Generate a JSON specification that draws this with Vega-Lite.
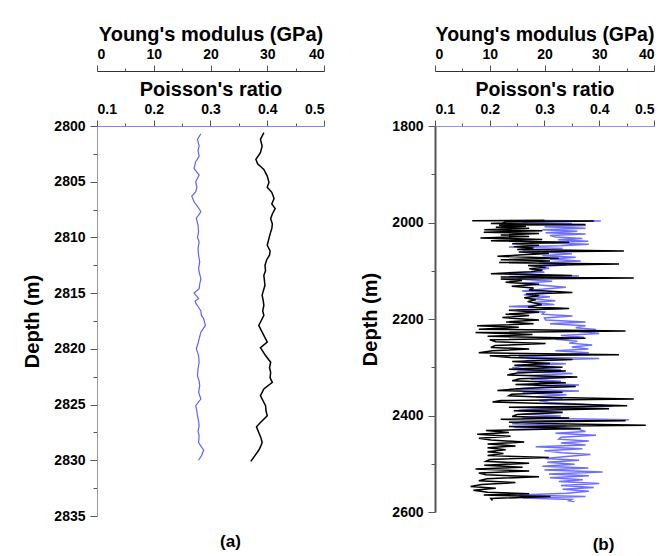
{
  "$schema": "https://vega.github.io/schema/vega-lite/v6.json",
  "padding": {"left": 22, "top": 24, "right": 0, "bottom": 0},
  "background": "white",
  "config": {
    "font": "Liberation Sans",
    "view": {"stroke": null},
    "axis": {"labelFont": "Liberation Sans", "labelFontWeight": "bold", "labelFontSize": 14, "labelColor": "#000", "titleFont": "Liberation Sans", "titleFontWeight": "bold", "titleFontSize": 20, "titleColor": "#000", "grid": false, "tickColor": "#555", "domainColor": "#555"},
    "concat": {"spacing": 35}
  },
  "datasets": {
    "a_young": [
      {"depth":2800.6,"value":29.4},{"depth":2801.2,"value":28.8},{"depth":2801.8,"value":29.1},{"depth":2802.4,"value":28.8},{"depth":2803.0,"value":28.0},{"depth":2803.4,"value":28.3},{"depth":2803.9,"value":29.4},{"depth":2804.5,"value":30.0},{"depth":2805.05,"value":30.3},{"depth":2805.5,"value":30.0},{"depth":2805.95,"value":30.8},{"depth":2806.5,"value":31.2},{"depth":2807.0,"value":30.8},{"depth":2807.4,"value":31.4},{"depth":2807.9,"value":30.9},{"depth":2808.3,"value":30.6},{"depth":2808.8,"value":30.9},{"depth":2809.2,"value":30.8},{"depth":2809.7,"value":30.5},{"depth":2810.1,"value":30.3},{"depth":2810.7,"value":30.0},{"depth":2811.2,"value":30.5},{"depth":2811.6,"value":30.4},{"depth":2812.0,"value":29.9},{"depth":2812.5,"value":29.6},{"depth":2813.0,"value":29.7},{"depth":2813.4,"value":29.4},{"depth":2814.3,"value":29.6},{"depth":2814.8,"value":29.3},{"depth":2815.2,"value":29.1},{"depth":2815.7,"value":29.3},{"depth":2816.1,"value":29.4},{"depth":2816.6,"value":29.2},{"depth":2817.0,"value":29.4},{"depth":2817.5,"value":28.9},{"depth":2817.9,"value":28.5},{"depth":2818.5,"value":29.1},{"depth":2819.0,"value":29.6},{"depth":2819.4,"value":30.0},{"depth":2819.9,"value":28.8},{"depth":2820.6,"value":29.7},{"depth":2821.2,"value":30.6},{"depth":2821.7,"value":30.4},{"depth":2822.1,"value":30.6},{"depth":2822.6,"value":30.5},{"depth":2823.0,"value":30.9},{"depth":2823.6,"value":29.4},{"depth":2824.2,"value":28.8},{"depth":2824.7,"value":29.3},{"depth":2825.1,"value":29.7},{"depth":2825.6,"value":29.8},{"depth":2826.0,"value":30.0},{"depth":2826.6,"value":28.8},{"depth":2827.0,"value":28.1},{"depth":2827.5,"value":28.5},{"depth":2828.0,"value":28.9},{"depth":2828.4,"value":29.1},{"depth":2828.8,"value":28.8},{"depth":2829.1,"value":28.5},{"depth":2829.6,"value":27.8},{"depth":2830.1,"value":27.1}
    ],
    "a_poisson": [
      {"depth":2800.7,"value":0.283},{"depth":2801.2,"value":0.277},{"depth":2801.8,"value":0.280},{"depth":2802.2,"value":0.278},{"depth":2802.7,"value":0.280},{"depth":2803.2,"value":0.274},{"depth":2803.8,"value":0.271},{"depth":2804.4,"value":0.280},{"depth":2805.0,"value":0.274},{"depth":2805.5,"value":0.276},{"depth":2805.9,"value":0.274},{"depth":2806.3,"value":0.267},{"depth":2806.8,"value":0.271},{"depth":2807.2,"value":0.277},{"depth":2807.7,"value":0.283},{"depth":2808.3,"value":0.275},{"depth":2808.9,"value":0.278},{"depth":2809.5,"value":0.279},{"depth":2810.0,"value":0.277},{"depth":2810.4,"value":0.280},{"depth":2811.0,"value":0.278},{"depth":2811.6,"value":0.279},{"depth":2812.2,"value":0.281},{"depth":2812.8,"value":0.279},{"depth":2813.3,"value":0.281},{"depth":2813.7,"value":0.283},{"depth":2814.2,"value":0.281},{"depth":2814.6,"value":0.280},{"depth":2815.0,"value":0.271},{"depth":2815.3,"value":0.276},{"depth":2815.5,"value":0.279},{"depth":2815.7,"value":0.273},{"depth":2815.9,"value":0.274},{"depth":2816.2,"value":0.278},{"depth":2816.6,"value":0.283},{"depth":2817.0,"value":0.284},{"depth":2817.3,"value":0.288},{"depth":2817.9,"value":0.291},{"depth":2818.2,"value":0.287},{"depth":2818.5,"value":0.283},{"depth":2819.1,"value":0.280},{"depth":2819.5,"value":0.278},{"depth":2820.0,"value":0.275},{"depth":2820.6,"value":0.279},{"depth":2821.2,"value":0.280},{"depth":2821.8,"value":0.278},{"depth":2822.4,"value":0.277},{"depth":2822.9,"value":0.280},{"depth":2823.3,"value":0.281},{"depth":2823.9,"value":0.279},{"depth":2824.5,"value":0.283},{"depth":2825.1,"value":0.274},{"depth":2825.6,"value":0.276},{"depth":2826.0,"value":0.277},{"depth":2826.5,"value":0.279},{"depth":2826.9,"value":0.280},{"depth":2827.4,"value":0.278},{"depth":2827.8,"value":0.280},{"depth":2828.4,"value":0.279},{"depth":2828.8,"value":0.284},{"depth":2829.1,"value":0.288},{"depth":2829.6,"value":0.284},{"depth":2830.0,"value":0.279}
    ],
    "b_young": [
      {"depth":1995.5,"value":20.0},{"depth":1996.2,"value":6.8},{"depth":1997.0,"value":29.0},{"depth":1999.0,"value":13.0},{"depth":2001.0,"value":12.3},{"depth":2002.0,"value":10.2},{"depth":2004.0,"value":27.5},{"depth":2005.5,"value":11.7},{"depth":2008.0,"value":16.6},{"depth":2010.0,"value":11.1},{"depth":2012.0,"value":17.2},{"depth":2015.0,"value":9.0},{"depth":2017.0,"value":19.6},{"depth":2020.0,"value":8.9},{"depth":2023.0,"value":19.0},{"depth":2026.0,"value":12.0},{"depth":2029.0,"value":17.2},{"depth":2032.0,"value":8.3},{"depth":2035.0,"value":19.6},{"depth":2038.0,"value":10.2},{"depth":2041.0,"value":24.5},{"depth":2044.0,"value":14.1},{"depth":2047.0,"value":19.0},{"depth":2050.0,"value":14.4},{"depth":2053.0,"value":18.0},{"depth":2056.0,"value":15.0},{"depth":2059.0,"value":34.5},{"depth":2061.0,"value":15.3},{"depth":2064.0,"value":20.8},{"depth":2067.0,"value":16.0},{"depth":2070.0,"value":11.4},{"depth":2074.0,"value":22.6},{"depth":2077.0,"value":12.0},{"depth":2080.0,"value":21.0},{"depth":2083.0,"value":11.7},{"depth":2086.0,"value":33.6},{"depth":2089.0,"value":17.0},{"depth":2093.0,"value":20.2},{"depth":2096.0,"value":17.2},{"depth":2099.0,"value":19.6},{"depth":2102.0,"value":17.5},{"depth":2106.0,"value":10.2},{"depth":2110.0,"value":25.0},{"depth":2113.0,"value":12.0},{"depth":2115.0,"value":36.3},{"depth":2117.0,"value":12.0},{"depth":2120.0,"value":15.9},{"depth":2124.0,"value":12.9},{"depth":2128.0,"value":19.0},{"depth":2132.0,"value":14.0},{"depth":2136.0,"value":18.0},{"depth":2140.0,"value":17.2},{"depth":2145.0,"value":25.1},{"depth":2148.0,"value":16.6},{"depth":2152.0,"value":19.0},{"depth":2156.0,"value":16.3},{"depth":2160.0,"value":18.4},{"depth":2164.0,"value":16.9},{"depth":2170.0,"value":19.5},{"depth":2175.0,"value":17.0},{"depth":2178.0,"value":24.5},{"depth":2182.0,"value":13.5},{"depth":2186.0,"value":19.0},{"depth":2190.0,"value":12.9},{"depth":2193.0,"value":17.2},{"depth":2197.0,"value":12.3},{"depth":2202.0,"value":19.0},{"depth":2206.0,"value":13.0},{"depth":2210.0,"value":18.0},{"depth":2214.0,"value":7.7},{"depth":2217.0,"value":15.3},{"depth":2221.0,"value":8.0},{"depth":2225.0,"value":34.8},{"depth":2228.0,"value":7.4},{"depth":2232.0,"value":17.8},{"depth":2236.0,"value":9.6},{"depth":2240.0,"value":27.5},{"depth":2243.0,"value":10.0},{"depth":2247.0,"value":11.1},{"depth":2251.0,"value":20.2},{"depth":2255.0,"value":11.0},{"depth":2259.0,"value":10.2},{"depth":2262.0,"value":17.2},{"depth":2266.0,"value":10.5},{"depth":2270.0,"value":8.0},{"depth":2274.0,"value":33.6},{"depth":2276.0,"value":10.0},
      {"depth":2280.0,"value":13.8},{"depth":2284.0,"value":25.1},{"depth":2288.0,"value":14.1},{"depth":2292.0,"value":21.0},{"depth":2296.0,"value":14.5},{"depth":2300.0,"value":23.3},{"depth":2304.0,"value":13.5},{"depth":2308.0,"value":23.9},{"depth":2312.0,"value":15.0},{"depth":2316.0,"value":13.2},{"depth":2320.0,"value":26.0},{"depth":2324.0,"value":15.5},{"depth":2328.0,"value":14.1},{"depth":2332.0,"value":23.9},{"depth":2336.0,"value":14.7},{"depth":2340.0,"value":25.7},{"depth":2344.0,"value":16.0},{"depth":2348.0,"value":11.4},{"depth":2352.0,"value":23.3},{"depth":2356.0,"value":14.0},{"depth":2359.0,"value":13.5},{"depth":2362.0,"value":20.0},{"depth":2366.0,"value":36.3},{"depth":2369.0,"value":12.0},{"depth":2372.0,"value":10.5},{"depth":2376.0,"value":24.0},{"depth":2380.0,"value":35.1},{"depth":2383.0,"value":13.5},{"depth":2386.0,"value":31.8},{"depth":2390.0,"value":14.4},{"depth":2394.0,"value":23.3},{"depth":2398.0,"value":15.0},{"depth":2402.0,"value":14.1},{"depth":2405.0,"value":24.5},{"depth":2408.0,"value":12.0},{"depth":2411.0,"value":34.8},{"depth":2414.0,"value":13.5},{"depth":2417.0,"value":22.0},{"depth":2420.0,"value":38.5},{"depth":2423.0,"value":13.5},{"depth":2427.0,"value":26.6},{"depth":2431.0,"value":9.3},{"depth":2435.0,"value":13.5},{"depth":2439.0,"value":7.7},{"depth":2443.0,"value":13.8},{"depth":2447.0,"value":8.0},{"depth":2451.0,"value":10.2},{"depth":2455.0,"value":16.3},{"depth":2459.0,"value":9.6},{"depth":2463.0,"value":14.7},{"depth":2467.0,"value":9.6},{"depth":2471.0,"value":12.9},{"depth":2475.0,"value":9.6},{"depth":2479.0,"value":12.5},{"depth":2483.0,"value":9.6},{"depth":2487.0,"value":20.8},{"depth":2491.0,"value":10.0},{"depth":2495.0,"value":9.3},{"depth":2499.0,"value":17.2},{"depth":2503.0,"value":9.0},{"depth":2507.0,"value":16.0},{"depth":2511.0,"value":7.4},{"depth":2515.0,"value":17.2},{"depth":2519.0,"value":8.0},{"depth":2523.0,"value":9.3},{"depth":2527.0,"value":19.0},{"depth":2531.0,"value":9.5},{"depth":2535.0,"value":8.0},{"depth":2539.0,"value":14.7},{"depth":2543.0,"value":8.5},{"depth":2547.0,"value":6.5},{"depth":2551.0,"value":11.1},{"depth":2555.0,"value":7.0},{"depth":2559.0,"value":9.6},{"depth":2562.0,"value":17.2},{"depth":2565.0,"value":8.9},{"depth":2568.0,"value":21.1},{"depth":2572.0,"value":10.2},{"depth":2576.0,"value":10.5}
    ],
    "b_poisson": [
      {"depth":1996.0,"value":0.300},{"depth":1997.0,"value":0.403},{"depth":1999.0,"value":0.259},{"depth":2002.0,"value":0.350},{"depth":2004.0,"value":0.275},{"depth":2006.0,"value":0.375},{"depth":2009.0,"value":0.300},{"depth":2012.0,"value":0.375},{"depth":2015.0,"value":0.296},{"depth":2018.0,"value":0.360},{"depth":2021.0,"value":0.302},{"depth":2024.0,"value":0.375},{"depth":2027.0,"value":0.310},{"depth":2030.0,"value":0.320},{"depth":2033.0,"value":0.369},{"depth":2036.0,"value":0.325},{"depth":2039.0,"value":0.380},{"depth":2042.0,"value":0.290},{"depth":2045.0,"value":0.381},{"depth":2048.0,"value":0.330},{"depth":2051.0,"value":0.235},{"depth":2054.0,"value":0.333},{"depth":2057.0,"value":0.260},{"depth":2061.0,"value":0.300},{"depth":2065.0,"value":0.350},{"depth":2069.0,"value":0.296},{"depth":2072.0,"value":0.357},{"depth":2076.0,"value":0.310},{"depth":2080.0,"value":0.366},{"depth":2084.0,"value":0.290},{"depth":2088.0,"value":0.340},{"depth":2091.0,"value":0.290},{"depth":2095.0,"value":0.308},{"depth":2099.0,"value":0.284},{"depth":2103.0,"value":0.300},{"depth":2107.0,"value":0.229},{"depth":2111.0,"value":0.363},{"depth":2114.0,"value":0.250},{"depth":2118.0,"value":0.265},{"depth":2122.0,"value":0.314},{"depth":2126.0,"value":0.259},{"depth":2130.0,"value":0.296},{"depth":2134.0,"value":0.339},{"depth":2138.0,"value":0.300},{"depth":2142.0,"value":0.259},{"depth":2146.0,"value":0.314},{"depth":2150.0,"value":0.262},{"depth":2154.0,"value":0.310},{"depth":2158.0,"value":0.272},{"depth":2162.0,"value":0.320},{"depth":2166.0,"value":0.280},{"depth":2170.0,"value":0.318},{"depth":2174.0,"value":0.235},{"depth":2178.0,"value":0.333},{"depth":2182.0,"value":0.250},{"depth":2186.0,"value":0.300},{"depth":2190.0,"value":0.296},{"depth":2194.0,"value":0.351},{"depth":2198.0,"value":0.300},{"depth":2202.0,"value":0.302},{"depth":2206.0,"value":0.375},{"depth":2210.0,"value":0.310},{"depth":2214.0,"value":0.375},{"depth":2218.0,"value":0.357},{"depth":2222.0,"value":0.394},{"depth":2226.0,"value":0.363},{"depth":2230.0,"value":0.400},{"depth":2234.0,"value":0.330},{"depth":2238.0,"value":0.372},{"depth":2242.0,"value":0.320},{"depth":2246.0,"value":0.360},{"depth":2250.0,"value":0.345},{"depth":2254.0,"value":0.387},{"depth":2258.0,"value":0.350},{"depth":2262.0,"value":0.380},{"depth":2266.0,"value":0.320},{"depth":2270.0,"value":0.381},{"depth":2274.0,"value":0.330},
      {"depth":2278.0,"value":0.253},{"depth":2282.0,"value":0.400},{"depth":2286.0,"value":0.270},{"depth":2289.0,"value":0.259},{"depth":2293.0,"value":0.339},{"depth":2297.0,"value":0.265},{"depth":2301.0,"value":0.241},{"depth":2305.0,"value":0.330},{"depth":2309.0,"value":0.250},{"depth":2313.0,"value":0.351},{"depth":2317.0,"value":0.272},{"depth":2321.0,"value":0.339},{"depth":2325.0,"value":0.275},{"depth":2329.0,"value":0.330},{"depth":2333.0,"value":0.290},{"depth":2337.0,"value":0.363},{"depth":2341.0,"value":0.296},{"depth":2345.0,"value":0.247},{"depth":2349.0,"value":0.363},{"depth":2353.0,"value":0.260},{"depth":2357.0,"value":0.340},{"depth":2361.0,"value":0.284},{"depth":2365.0,"value":0.333},{"depth":2369.0,"value":0.290},{"depth":2373.0,"value":0.308},{"depth":2377.0,"value":0.380},{"depth":2381.0,"value":0.424},{"depth":2385.0,"value":0.310},{"depth":2389.0,"value":0.253},{"depth":2393.0,"value":0.333},{"depth":2397.0,"value":0.260},{"depth":2401.0,"value":0.330},{"depth":2405.0,"value":0.259},{"depth":2409.0,"value":0.454},{"depth":2413.0,"value":0.265},{"depth":2417.0,"value":0.241},{"depth":2421.0,"value":0.339},{"depth":2425.0,"value":0.245},{"depth":2429.0,"value":0.363},{"depth":2433.0,"value":0.375},{"depth":2437.0,"value":0.320},{"depth":2441.0,"value":0.394},{"depth":2445.0,"value":0.330},{"depth":2449.0,"value":0.326},{"depth":2453.0,"value":0.381},{"depth":2457.0,"value":0.330},{"depth":2461.0,"value":0.375},{"depth":2465.0,"value":0.284},{"depth":2469.0,"value":0.369},{"depth":2473.0,"value":0.300},{"depth":2477.0,"value":0.332},{"depth":2481.0,"value":0.384},{"depth":2485.0,"value":0.340},{"depth":2489.0,"value":0.302},{"depth":2493.0,"value":0.363},{"depth":2497.0,"value":0.305},{"depth":2501.0,"value":0.355},{"depth":2505.0,"value":0.296},{"depth":2509.0,"value":0.380},{"depth":2513.0,"value":0.300},{"depth":2517.0,"value":0.406},{"depth":2521.0,"value":0.308},{"depth":2525.0,"value":0.381},{"depth":2529.0,"value":0.310},{"depth":2533.0,"value":0.370},{"depth":2537.0,"value":0.326},{"depth":2541.0,"value":0.400},{"depth":2545.0,"value":0.330},{"depth":2549.0,"value":0.390},{"depth":2553.0,"value":0.333},{"depth":2557.0,"value":0.381},{"depth":2561.0,"value":0.340},{"depth":2565.0,"value":0.253},{"depth":2568.0,"value":0.375},{"depth":2571.0,"value":0.260},{"depth":2574.0,"value":0.350},{"depth":2577.0,"value":0.345},{"depth":2578.5,"value":0.355}
    ]
  },
  "hconcat": [
    {
      "width": 227,
      "height": 390,
      "title": {"text": "(a)", "orient": "bottom", "frame": "group", "dx": 20, "offset": 11, "fontSize": 17, "fontWeight": "bold", "font": "Liberation Sans", "color": "#000"},
      "layer": [
        {
          "data": {"name": "a_poisson"},
          "mark": {"type": "line", "color": "#6060ff", "strokeWidth": 1.2},
          "encoding": {
            "x": {"field": "value", "type": "quantitative", "scale": {"domain": [0.1, 0.5], "nice": false, "zero": false},
              "axis": {"orient": "top", "title": "Poisson's ratio", "values": [0.1, 0.15, 0.2, 0.25, 0.3, 0.35, 0.4, 0.45, 0.5], "format": ".1f", "labelExpr": "abs(datum.value*10 - round(datum.value*10)) > 0.01 ? '' : datum.label", "tickSize": {"condition": {"test": "abs(datum.value*10 - round(datum.value*10)) > 0.01", "value": 3}, "value": 6}, "domainColor": "#8080ff", "labelPadding": 4, "titlePadding": 3}},
            "y": {"field": "depth", "type": "quantitative", "scale": {"domain": [2800, 2835], "reverse": true, "nice": false, "zero": false},
              "axis": {"title": "Depth (m)", "format": "d", "values": [2800, 2802.5, 2805, 2807.5, 2810, 2812.5, 2815, 2817.5, 2820, 2822.5, 2825, 2827.5, 2830, 2832.5, 2835], "labelExpr": "datum.value % 5 === 0 ? datum.label : ''", "tickSize": {"condition": {"test": "datum.value % 5 !== 0", "value": 4}, "value": 7}, "domainColor": "#999", "labelPadding": 5, "titlePadding": 11}},
            "order": {"field": "depth", "type": "quantitative"}
          }
        },
        {
          "data": {"name": "a_young"},
          "mark": {"type": "line", "color": "#000", "strokeWidth": 1.5},
          "encoding": {
            "x": {"field": "value", "type": "quantitative", "scale": {"domain": [0, 40], "nice": false, "zero": false},
              "axis": {"orient": "top", "offset": 55, "title": "Young's modulus (GPa)", "values": [0, 5, 10, 15, 20, 25, 30, 35, 40], "labelExpr": "datum.value % 10 === 0 ? datum.label : ''", "tickSize": {"condition": {"test": "datum.value % 10 !== 0", "value": 3}, "value": 6}, "domainColor": "#333", "labelPadding": 4, "titlePadding": 3}},
            "y": {"field": "depth", "type": "quantitative", "scale": {"domain": [2800, 2835], "reverse": true, "nice": false, "zero": false},
              "axis": {"title": "Depth (m)", "format": "d", "values": [2800, 2802.5, 2805, 2807.5, 2810, 2812.5, 2815, 2817.5, 2820, 2822.5, 2825, 2827.5, 2830, 2832.5, 2835], "labelExpr": "datum.value % 5 === 0 ? datum.label : ''", "tickSize": {"condition": {"test": "datum.value % 5 !== 0", "value": 4}, "value": 7}, "domainColor": "#999", "labelPadding": 5, "titlePadding": 11}},
            "order": {"field": "depth", "type": "quantitative"}
          }
        }
      ],
      "resolve": {"scale": {"x": "independent"}, "axis": {"x": "independent"}}
    },
    {
      "width": 219,
      "height": 386,
      "title": {"text": "(b)", "orient": "bottom", "frame": "group", "dx": 59, "offset": 18, "fontSize": 17, "fontWeight": "bold", "font": "Liberation Sans", "color": "#000"},
      "layer": [
        {
          "data": {"name": "b_poisson"},
          "mark": {"type": "line", "color": "#6e6eff", "strokeWidth": 1.5},
          "encoding": {
            "x": {"field": "value", "type": "quantitative", "scale": {"domain": [0.1, 0.5], "nice": false, "zero": false},
              "axis": {"orient": "top", "title": "Poisson's ratio", "titleFontSize": 19.5, "values": [0.1, 0.15, 0.2, 0.25, 0.3, 0.35, 0.4, 0.45, 0.5], "format": ".1f", "labelExpr": "abs(datum.value*10 - round(datum.value*10)) > 0.01 ? '' : datum.label", "tickSize": {"condition": {"test": "abs(datum.value*10 - round(datum.value*10)) > 0.01", "value": 3}, "value": 6}, "domainColor": "#9090ff", "labelPadding": 4, "titlePadding": 3}},
            "y": {"field": "depth", "type": "quantitative", "scale": {"domain": [1800, 2600], "reverse": true, "nice": false, "zero": false},
              "axis": {"title": "Depth (m)", "format": "d", "values": [1800, 1900, 2000, 2100, 2200, 2300, 2400, 2500, 2600], "labelExpr": "datum.value % 200 === 0 ? datum.label : ''", "tickSize": {"condition": {"test": "datum.value % 200 !== 0", "value": 4}, "value": 7}, "domainColor": "#555", "domainWidth": 2, "labelPadding": 5, "titlePadding": 11}},
            "order": {"field": "depth", "type": "quantitative"}
          }
        },
        {
          "data": {"name": "b_young"},
          "mark": {"type": "line", "color": "#000", "strokeWidth": 1.5},
          "encoding": {
            "x": {"field": "value", "type": "quantitative", "scale": {"domain": [0, 40], "nice": false, "zero": false},
              "axis": {"orient": "top", "offset": 55, "title": "Young's modulus (GPa)", "titleFontSize": 19.5, "values": [0, 5, 10, 15, 20, 25, 30, 35, 40], "labelExpr": "datum.value % 10 === 0 ? datum.label : ''", "tickSize": {"condition": {"test": "datum.value % 10 !== 0", "value": 3}, "value": 6}, "domainColor": "#333", "labelPadding": 4, "titlePadding": 3}},
            "y": {"field": "depth", "type": "quantitative", "scale": {"domain": [1800, 2600], "reverse": true, "nice": false, "zero": false},
              "axis": {"title": "Depth (m)", "format": "d", "values": [1800, 1900, 2000, 2100, 2200, 2300, 2400, 2500, 2600], "labelExpr": "datum.value % 200 === 0 ? datum.label : ''", "tickSize": {"condition": {"test": "datum.value % 200 !== 0", "value": 4}, "value": 7}, "domainColor": "#555", "domainWidth": 2, "labelPadding": 5, "titlePadding": 11}},
            "order": {"field": "depth", "type": "quantitative"}
          }
        }
      ],
      "resolve": {"scale": {"x": "independent"}, "axis": {"x": "independent"}}
    }
  ]
}
